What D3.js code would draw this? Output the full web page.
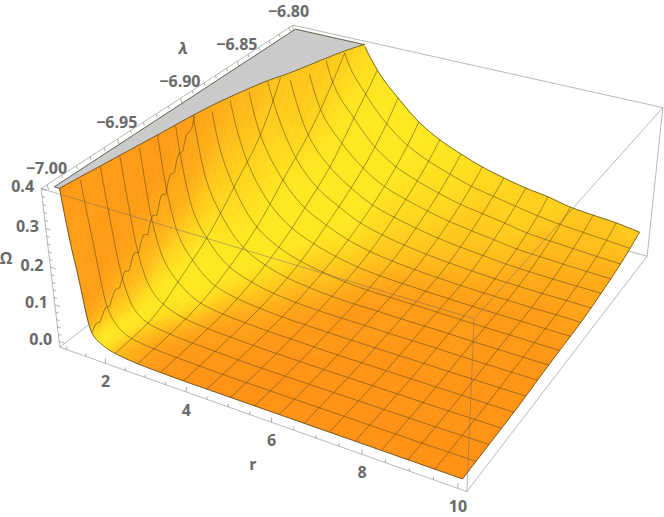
<!DOCTYPE html>
<html><head><meta charset="utf-8">
<script src="https://cdn.jsdelivr.net/npm/d3@7"></script>
<style>html,body{margin:0;padding:0;background:#fff}svg{display:block}
text{font-family:"Open Sans",sans-serif;font-weight:700;fill:#696969;font-size:16px}</style>
</head><body><div id="c"></div>
<script>
const rNodes=[1,1.13,1.25,1.39,1.5625,1.8,2.125,2.6875,3.25,3.8125,4.375,4.9375,5.5,6.0625,6.625,7.1875,7.75,8.3125,8.875,9.4375,10];
const lambdaNodes=[-7,-6.975,-6.95,-6.925,-6.9,-6.875,-6.85,-6.825,-6.8];
const omegaAtL0=[.6,.40,.27,.16,.04,.016,.004,-.003,-.005,-.006,-.006,-.006,-.006,-.006,-.006,-.006,-.006,-.006,-.006,-.006,-.006];
const omegaAtL1=[.65,.52,.40,.25,.112,.04,.013,.003,-.001,-.003,-.005,-.006,-.006,-.006,-.006,-.006,-.006,-.006,-.006,-.005,-.005];
const omegaAtL2=[.8,.66,.53,.38,.203,.105,.057,.017,.006,.002,-.001,-.002,-.003,-.004,-.004,-.004,-.004,-.004,-.004,-.004,-.004];
const omegaAtL3=[1.0,.85,.7,.53,.323,.18,.113,.05,.026,.013,.007,.004,.003,.003,.002,.002,.002,.001,.001,.001,.001];
const omegaAtL4=[1.1,.95,.8,.65,.45,.29,.193,.098,.058,.036,.024,.015,.011,.01,.009,.008,.007,.006,.006,.005,.005];
const omegaAtL5=[1.2,1.05,.95,.8,.62,.43,.281,.17,.107,.075,.05,.035,.026,.02,.016,.013,.011,.01,.009,.009,.008];
const omegaAtL6=[1.3,1.15,1.05,.95,.8,.58,.43,.241,.165,.121,.088,.07,.056,.045,.037,.031,.025,.022,.02,.019,.018];
const omegaAtL7=[1.4,1.3,1.2,1.1,1.0,.8,.6,.338,.25,.182,.14,.115,.096,.08,.07,.06,.049,.044,.04,.036,.033];
const omegaAtL8=[1.9,1.7,1.55,1.45,1.4,1.1,.85,.46,.336,.27,.215,.178,.152,.13,.114,.101,.092,.079,.073,.068,.059];
const omegaRows=[omegaAtL0,omegaAtL1,omegaAtL2,omegaAtL3,omegaAtL4,omegaAtL5,omegaAtL6,omegaAtL7,omegaAtL8];
const rTicks=[2,4,6,8,10], rMinor=d3.range(1,10.01,.5);
const lambdaTicks=[-7,-6.95,-6.9,-6.85,-6.8], lambdaMinor=d3.range(-7,-6.7999,.01);
const omegaTicks=[0,.1,.2,.3,.4], omegaMinor=d3.range(0,.4001,.02);
const rMesh=d3.range(1,16).map(k=>1+k*.5625), lambdaMesh=d3.range(1,16).map(k=>-7+k*.0125);
// the scalloped mesh line at r = 1.5625: wobble
const scallopR=1.5625;
const scallopDelta=[0,.003,.007,.003,-.004,.001,.007,.01,.003,-.004,.003,.008,.011,.004,-.004,.001,.008,.011,.003,-.006,.001,.01,.013,.004,-.006,.001,.01,.013,.004,-.007,.003,.011,.014,.004,-.007,.001,.011,.014,.004,-.007,.003,.011,.013,.003,-.006,.004,.011,.011,.001,-.006,.004,.011,.008,0,-.004,.004,.008,.005];

const W=664,H=517;
const svg=d3.select("#c").append("svg").attr("width",W).attr("height",H);
const sr=d3.scaleLinear().domain([.82,10.18]).range([0,1]);
const sl=d3.scaleLinear().domain([-7.004,-6.796]).range([0,1]);
const so=d3.scaleLinear().domain([-.016,.4]).range([0,1]);

// camera calibrated from the box corners seen in the picture
const boxCorners=[[0,0,0,60,347],[1,0,0,467,492],[0,0,1,41,189],[1,0,1,474,318],[1,1,0,647,256],[1,1,1,663,108],[0,1,1,293,25]];
function solveCamera(c){
  const A=[],b=[];
  c.forEach(([x,y,z,u,v])=>{A.push([x,y,z,1,0,0,0,0,-u*x,-u*y,-u*z]);b.push(u);A.push([0,0,0,0,x,y,z,1,-v*x,-v*y,-v*z]);b.push(v);});
  const n=11,M=d3.range(n).map(i=>d3.range(n+1).map(j=>{let s=0;A.forEach((row,k)=>{s+=row[i]*(j<n?row[j]:b[k]);});return s;}));
  for(let i=0;i<n;i++){let p=i;for(let k=i;k<n;k++)if(Math.abs(M[k][i])>Math.abs(M[p][i]))p=k;[M[i],M[p]]=[M[p],M[i]];
    for(let k=0;k<n;k++)if(k!==i){const f=M[k][i]/M[i][i];for(let j=i;j<=n;j++)M[k][j]-=f*M[i][j];}}
  return M.map((row,i)=>row[n]/row[i]);
}
const cam=solveCamera(boxCorners);
const proj=(x,y,z)=>{const w=cam[8]*x+cam[9]*y+cam[10]*z+1;return[(cam[0]*x+cam[1]*y+cam[2]*z+cam[3])/w,(cam[4]*x+cam[5]*y+cam[6]*z+cam[7])/w];};

// smooth reading between table nodes (Hermite through log values)
const tf=o=>Math.log(o+.02), ti=f=>Math.exp(f)-.02;
function herm(xs,ys,x){
  let i=Math.min(xs.length-2,Math.max(0,d3.bisectRight(xs,x)-1));
  const h=xs[i+1]-xs[i],s=(x-xs[i])/h;
  const d=j=>j<=0?(ys[1]-ys[0])/(xs[1]-xs[0]):j>=xs.length-1?(ys[j]-ys[j-1])/(xs[j]-xs[j-1]):(ys[j+1]-ys[j-1])/(xs[j+1]-xs[j-1]);
  const s2=s*s,s3=s2*s;
  return (2*s3-3*s2+1)*ys[i]+(s3-2*s2+s)*h*d(i)+(-2*s3+3*s2)*ys[i+1]+(s3-s2)*h*d(i+1);
}
const logRows=omegaRows.map(r=>r.map(tf));
function omegaAt(r,l){const col=logRows.map(row=>herm(rNodes,row,r));return ti(herm(lambdaNodes,col,l));}

const rFine=[];rNodes.slice(0,-1).forEach((r,i)=>{const n=rNodes[i+1]-r<.3?6:5;for(let k=0;k<n;k++)rFine.push(r+(rNodes[i+1]-r)*k/n);});rFine.push(10);
const lFine=d3.range(0,49).map(k=>-7+k*.2/48);
const G=lFine.map(l=>rFine.map(r=>omegaAt(r,l)));
const X=rFine.map(sr),Y=lFine.map(sl);

const orange=d3.rgb(255,146,20),yellow=d3.rgb(255,232,32);
const L=[.57,-.28,.77];
const sstep=(a,b,x)=>{const t=Math.max(0,Math.min(1,(x-a)/(b-a)));return t*t*(3-2*t);};
function rawShade(i,j){
  const i0=Math.max(0,i-2),i1=Math.min(G.length-1,i+2),j0=Math.max(0,j-2),j1=Math.min(rFine.length-1,j+2);
  const zf=o=>so(Math.min(o,.7))*.4;
  const zx=(zf(G[i][j1])-zf(G[i][j0]))/(X[j1]-X[j0]);
  const zy=(zf(G[i1][j])-zf(G[i0][j]))/(Y[i1]-Y[i0]);
  const m=Math.hypot(zx,zy,1),I=(-zx*L[0]-zy*L[1]+L[2])/m;
  const lo=.78-.14*sstep(.8,2.5,Math.abs(zx));
  let s=Math.max(0,Math.min(1,(I-lo)/(.97-lo)));
  return s+.28*Y[i]*Y[i]*(1-s);
}
let S=G.map((row,i)=>row.map((_,j)=>rawShade(i,j)));
for(let pass=0;pass<5;pass++){
  S=S.map((row,i)=>row.map((v,j)=>{
    const a=row[Math.max(0,j-1)],b=row[Math.min(row.length-1,j+1)];
    const c=S[Math.max(0,i-1)][j],d=S[Math.min(S.length-1,i+1)][j];
    return (4*v+a+b+c+d)/8;}));
}
const shade=(i,j)=>d3.interpolateRgb(orange,yellow)(Math.min(1,(S[i][j]+S[i+1][j]+S[i][j+1]+S[i+1][j+1])/4));
function clipZ(poly,keepBelow){
  const out=[],edge=[];
  const inside=p=>keepBelow?p[2]<=1:p[2]>=1;
  poly.forEach((p,k)=>{const q=poly[(k+1)%poly.length],a=inside(p),b=inside(q);
    if(a)out.push(p);
    if(a!==b){const f=(1-p[2])/(q[2]-p[2]),c=[p[0]+f*(q[0]-p[0]),p[1]+f*(q[1]-p[1]),1];out.push(c);edge.push(c);}
  });
  return{out,edge};
}
const cells=[],clipSegs=[];
for(let i=G.length-2;i>=0;i--)for(let j=0;j<rFine.length-1;j++){
  const poly=[[X[j],Y[i],so(G[i][j])],[X[j+1],Y[i],so(G[i][j+1])],[X[j+1],Y[i+1],so(G[i+1][j+1])],[X[j],Y[i+1],so(G[i+1][j])]];
  const g=clipZ(poly,false).out;
  if(g.length>2)cells.push({pts:g.map(p=>proj(p[0],p[1],1)),fill:"#c9c9c9"});
  const {out,edge}=clipZ(poly,true);
  if(out.length>2)cells.push({pts:out.map(p=>proj(p[0],p[1],p[2])),fill:shade(i,j)});
  if(edge.length===2)clipSegs.push(edge.map(p=>proj(p[0],p[1],1)));
}
const boxLine=(a,b)=>svg.append("line").attr("x1",proj(...a)[0]).attr("y1",proj(...a)[1]).attr("x2",proj(...b)[0]).attr("y2",proj(...b)[1]).attr("stroke","rgba(105,105,105,.48)").attr("stroke-width",1);
// back edges, behind the surface
[[[0,0,0],[0,1,0]],[[0,1,0],[1,1,0]],[[0,1,0],[0,1,1]]].forEach(e=>boxLine(e[0],e[1]));

svg.append("g").selectAll("path").data(cells).join("path")
 .attr("d",d=>"M"+d.pts.map(p=>p[0].toFixed(2)+","+p[1].toFixed(2)).join("L")+"Z")
 .attr("fill",d=>d.fill).attr("stroke",d=>d.fill).attr("stroke-width",.6);

const lineGen=d3.line().defined(d=>d[2]<=1).x(d=>proj(d[0],d[1],d[2])[0]).y(d=>proj(d[0],d[1],d[2])[1]);
const gm=svg.append("g").attr("fill","none").attr("stroke","rgba(70,62,25,.62)").attr("stroke-width",.85);
const tS=d3.range(0,161).map(k=>-7+k*.2/160), rS=rFine.flatMap((r,i)=>i<rFine.length-1?[r,(r+rFine[i+1])/2]:[r]);
rMesh.filter(r=>r!==scallopR).forEach(r=>gm.append("path").attr("d",lineGen(tS.map(l=>[sr(r),sl(l),so(omegaAt(r,l))]))));
lambdaMesh.forEach(l=>gm.append("path").attr("d",lineGen(rS.map(r=>[sr(r),sl(l),so(omegaAt(r,l))]))));
// scalloped line up to where the surface meets the clip plane
gm.append("path").attr("d",lineGen(scallopDelta.map((d,k)=>{const l=-7+k*(.2*.45/(scallopDelta.length-1));return[sr(scallopR),sl(l),so(omegaAt(scallopR,l)+d)];})));
// outline
const ge=svg.append("g").attr("fill","none").attr("stroke","rgba(62,56,32,.8)").attr("stroke-width",.9);
ge.append("path").attr("d",lineGen(rS.map(r=>[sr(r),sl(-7),so(omegaAt(r,-7))])));
ge.append("path").attr("d",lineGen(rS.map(r=>[sr(r),sl(-6.8),so(omegaAt(r,-6.8))])));
ge.append("path").attr("d",lineGen(tS.map(l=>[sr(10),sl(l),so(omegaAt(10,l))])));
ge.append("path").attr("d",clipSegs.map(s=>"M"+s[0]+"L"+s[1]).join(""));
const pr=(r,l)=>proj(sr(r),sl(l),1);
const rClipBack=rS.find(r=>omegaAt(r,-6.8)<=.4), rClipFront=rS.find(r=>omegaAt(r,-7)<=.4);
ge.append("path").attr("d","M"+pr(1,-7)+"L"+pr(1,-6.8)+"L"+pr(rClipBack,-6.8));
ge.append("path").attr("d","M"+pr(1,-7)+"L"+pr(rClipFront,-7));

// front box edges
[[[0,0,0],[1,0,0]],[[0,0,0],[0,0,1]],[[0,0,1],[0,1,1]],[[0,1,1],[1,1,1]],[[1,1,1],[1,1,0]],[[1,1,0],[1,0,0]],[[0,0,1],[1,0,1]],[[1,0,1],[1,0,0]],[[1,0,1],[1,1,1]]].forEach(e=>boxLine(e[0],e[1]));

// ticks
const gt=svg.append("g").attr("stroke","rgba(105,105,105,.55)").attr("stroke-width",1);
const tick=(p,dx,dy)=>gt.append("line").attr("x1",p[0]).attr("y1",p[1]).attr("x2",p[0]+dx).attr("y2",p[1]+dy);
rMinor.forEach(v=>{const m=rTicks.includes(v),p=proj(sr(v),0,0);tick(p,0,m?-5:-3);});
lambdaMinor.forEach(v=>{const m=lambdaTicks.some(t=>Math.abs(t-v)<1e-6),p=proj(0,sl(v),1);tick(p,m?1.5:1,m?5:3);});
omegaMinor.forEach(v=>{const m=omegaTicks.some(t=>Math.abs(t-v)<1e-6),p=proj(0,0,so(v));tick(p,m?5:3,m?1.6:1);});
// labels
const lab=(x,y,s,a)=>svg.append("text").attr("x",x).attr("y",y).attr("text-anchor",a).attr("dominant-baseline","central").text(s);
rTicks.forEach(v=>{const p=proj(sr(v),0,0);lab(p[0],p[1]+18,v,"middle");});
lambdaTicks.forEach(v=>{const p=proj(0,sl(v),1);lab(p[0]+20,p[1]-17,"\u2212"+Math.abs(v).toFixed(2),"end");});
omegaTicks.forEach(v=>{const p=proj(0,0,so(v));lab(p[0]-7,p[1]-2.5,v.toFixed(1),"end");});
lab(183,48,"\u03bb","middle").attr("font-style","italic");
lab(253,464,"r","middle");
lab(6,258,"\u03a9","middle");
</script></body></html>
